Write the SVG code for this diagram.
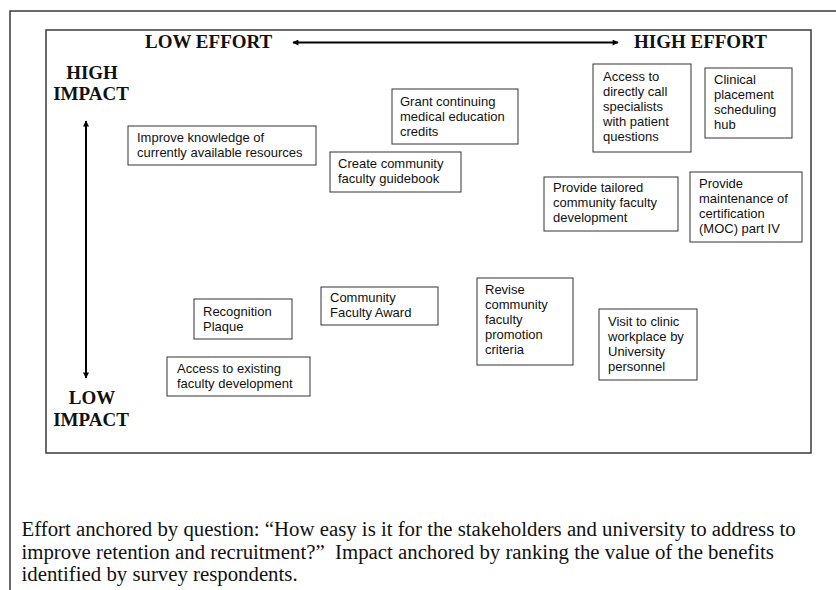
<svg xmlns="http://www.w3.org/2000/svg" width="836" height="590" viewBox="0 0 836 590">
<style>
.frame{fill:none;stroke:#3a3a3a;stroke-width:1.5}
.box{fill:#fff;stroke:#333;stroke-width:1}
.t{font-family:"Liberation Sans",Arial,sans-serif;font-size:13px;fill:#111}
.h{font-family:"Liberation Serif","Times New Roman",serif;font-size:19px;font-weight:bold;fill:#111}
.n{font-family:"Liberation Serif","Times New Roman",serif;font-size:20.8px;fill:#111;white-space:pre}
.ax{stroke:#000;stroke-width:2;fill:none}
</style>
<defs>
<marker id="ah" viewBox="0 0 10 10" refX="9" refY="5" markerWidth="7" markerHeight="6" markerUnits="userSpaceOnUse" orient="auto-start-reverse">
<path d="M0,0 L10,5 L0,10 z" fill="#000"/>
</marker>
</defs>
<rect width="836" height="590" fill="#fff"/>
<path class="frame" d="M10,590 V11 H836"/>
<rect class="frame" x="46" y="30" width="765" height="423"/>

<g id="labels">
<text class="h" x="145" y="48">LOW EFFORT</text>
<text class="h" x="634" y="48">HIGH EFFORT</text>
<text class="h" x="92" y="79" text-anchor="middle">HIGH</text>
<text class="h" x="91" y="100" text-anchor="middle">IMPACT</text>
<text class="h" x="92" y="404" text-anchor="middle">LOW</text>
<text class="h" x="91" y="426" text-anchor="middle">IMPACT</text>
</g>

<g id="connectors">
<line class="ax" x1="293" y1="42.5" x2="618" y2="42.5" marker-start="url(#ah)" marker-end="url(#ah)"/>
<line class="ax" x1="86" y1="121" x2="86" y2="378" marker-start="url(#ah)" marker-end="url(#ah)"/>
</g>

<g id="n-improve">
<rect class="box" x="128" y="126" width="188" height="39"/>
<text class="t" x="137" y="142">Improve knowledge of</text>
<text class="t" x="137" y="157">currently available resources</text>
</g>
<g id="n-grant">
<rect class="box" x="392" y="89" width="126" height="55"/>
<text class="t" x="400" y="106">Grant continuing</text>
<text class="t" x="400" y="121">medical education</text>
<text class="t" x="400" y="136">credits</text>
</g>
<g id="n-guidebook">
<rect class="box" x="330" y="152" width="131" height="40"/>
<text class="t" x="338" y="168">Create community</text>
<text class="t" x="338" y="183">faculty guidebook</text>
</g>
<g id="n-specialists">
<rect class="box" x="593" y="64" width="98" height="88"/>
<text class="t" x="603" y="81">Access to</text>
<text class="t" x="603" y="96">directly call</text>
<text class="t" x="603" y="111">specialists</text>
<text class="t" x="603" y="126">with patient</text>
<text class="t" x="603" y="141">questions</text>
</g>
<g id="n-hub">
<rect class="box" x="705" y="68" width="87" height="70"/>
<text class="t" x="714" y="84">Clinical</text>
<text class="t" x="714" y="99">placement</text>
<text class="t" x="714" y="114">scheduling</text>
<text class="t" x="714" y="129">hub</text>
</g>
<g id="n-tailored">
<rect class="box" x="544" y="177" width="134" height="54"/>
<text class="t" x="553" y="192">Provide tailored</text>
<text class="t" x="553" y="207">community faculty</text>
<text class="t" x="553" y="222">development</text>
</g>
<g id="n-moc">
<rect class="box" x="690" y="172" width="112" height="70"/>
<text class="t" x="699" y="188">Provide</text>
<text class="t" x="699" y="203">maintenance of</text>
<text class="t" x="699" y="218">certification</text>
<text class="t" x="699" y="233">(MOC) part IV</text>
</g>
<g id="n-plaque">
<rect class="box" x="194" y="299" width="98" height="40"/>
<text class="t" x="203" y="316">Recognition</text>
<text class="t" x="203" y="331">Plaque</text>
</g>
<g id="n-award">
<rect class="box" x="321" y="287" width="117" height="38"/>
<text class="t" x="330" y="302">Community</text>
<text class="t" x="330" y="317">Faculty Award</text>
</g>
<g id="n-existing">
<rect class="box" x="167" y="357" width="143" height="39"/>
<text class="t" x="177" y="373">Access to existing</text>
<text class="t" x="177" y="388">faculty development</text>
</g>
<g id="n-revise">
<rect class="box" x="477" y="278" width="96" height="87"/>
<text class="t" x="485" y="294">Revise</text>
<text class="t" x="485" y="309">community</text>
<text class="t" x="485" y="324">faculty</text>
<text class="t" x="485" y="339">promotion</text>
<text class="t" x="485" y="354">criteria</text>
</g>
<g id="n-visit">
<rect class="box" x="599" y="309" width="98" height="71"/>
<text class="t" x="608" y="326">Visit to clinic</text>
<text class="t" x="608" y="341">workplace by</text>
<text class="t" x="608" y="356">University</text>
<text class="t" x="608" y="371">personnel</text>
</g>

<g id="note">
<text class="n" x="21.5" y="536">Effort anchored by question: “How easy is it for the stakeholders and university to address to</text>
<text class="n" x="21.5" y="558.5">improve retention and recruitment?”  Impact anchored by ranking the value of the benefits</text>
<text class="n" x="21.5" y="581">identified by survey respondents.</text>
</g>
</svg>
